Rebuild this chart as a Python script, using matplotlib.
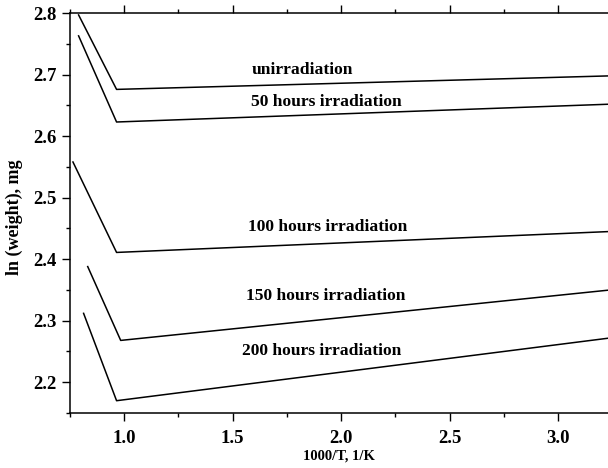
import numpy as np
import matplotlib
matplotlib.use('Agg')
import matplotlib.pyplot as plt
from matplotlib.ticker import MultipleLocator

plt.rcParams['font.family'] = ['Liberation Serif', 'DejaVu Serif']
plt.rcParams['font.weight'] = 'bold'

# curve data: start, minimum, end (1000/T, ln weight)
unirr_x = [0.79, 0.965, 3.24]
unirr_y = [2.797, 2.676, 2.698]
h50_x = [0.79, 0.965, 3.24]
h50_y = [2.763, 2.623, 2.652]
h100_x = [0.764, 0.965, 3.24]
h100_y = [2.558, 2.411, 2.445]
h150_x = [0.832, 0.984, 3.24]
h150_y = [2.388, 2.268, 2.350]
h200_x = [0.813, 0.965, 3.24]
h200_y = [2.312, 2.170, 2.272]

labels = ["unirradiation", "50 hours irradiation", "100 hours irradiation",
          "150 hours irradiation", "200 hours irradiation"]
label_x = [1.82, 1.93, 1.94, 1.93, 1.91]
label_y = [2.708, 2.656, 2.453, 2.34, 2.25]

fig = plt.figure(figsize=(6.08, 4.68), dpi=100)
ax = fig.add_axes([0.115, 0.1175, 0.885, 0.8545])

for xs, ys in [(unirr_x, unirr_y), (h50_x, h50_y), (h100_x, h100_y),
               (h150_x, h150_y), (h200_x, h200_y)]:
    ax.plot(xs, ys, color='black', lw=1.1)

for t, x, y in zip(labels, label_x, label_y):
    ax.text(x, y, t, ha='center', va='center', fontsize=12.6, fontweight='bold')

ax.set_xlim(0.75, 3.23)
ax.set_ylim(2.15, 2.8)
ax.xaxis.set_minor_locator(MultipleLocator(0.25))
ax.yaxis.set_minor_locator(MultipleLocator(0.05))
ax.set_xticks([1.0, 1.5, 2.0, 2.5, 3.0])
ax.set_xticklabels(['1.0', '1.5', '2.0', '2.5', '3.0'])
ax.set_yticks([2.2, 2.3, 2.4, 2.5, 2.6, 2.7, 2.8])
ax.set_yticklabels(['2.2', '2.3', '2.4', '2.5', '2.6', '2.7', '2.8'])

ax.tick_params(which='both', direction='out', top=True, right=False,
               labelsize=13.5, width=1)
ax.tick_params(which='major', length=6)
ax.tick_params(which='minor', length=3)
ax.tick_params(axis='x', pad=6)
ax.spines['right'].set_visible(False)
for s in ['left', 'bottom', 'top']:
    ax.spines[s].set_linewidth(1.1)

ax.set_xlabel('1000/T, 1/K', fontsize=10.5, fontweight='bold', labelpad=2)
ax.set_ylabel('ln (weight), mg', fontsize=13, fontweight='bold')
ax.yaxis.set_label_coords(-0.087, 0.49)

fig.savefig('out.png', dpi=100)
